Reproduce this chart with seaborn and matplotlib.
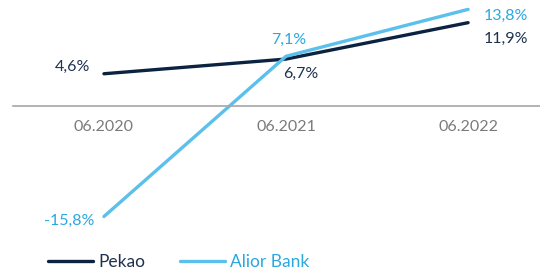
import matplotlib
matplotlib.use('Agg')
import matplotlib.pyplot as plt
import pandas as pd
import seaborn as sns

# Data
periods = ['06.2020', '06.2021', '06.2022']
pekao = [4.6, 6.7, 11.9]
alior = [-15.8, 7.1, 13.8]
series_names = ['Pekao', 'Alior Bank']
colors = {'Pekao': '#0b2341', 'Alior Bank': '#5bc0eb'}
text_colors = {'Pekao': '#1e3250', 'Alior Bank': '#2aa8e0'}

sns.set_style('white')
plt.rcParams['font.family'] = ['Lato', 'DejaVu Sans']

df = pd.DataFrame({
    'period': periods * 2,
    'pos': list(range(len(periods))) * 2,
    'value': pekao + alior,
    'bank': [series_names[0]] * 3 + [series_names[1]] * 3,
})

fig = plt.figure(figsize=(5.4, 2.76), dpi=100)
ax = fig.add_axes([0, 0, 1, 1])

sns.lineplot(data=df, x='pos', y='value', hue='bank', palette=colors,
             linewidth=2.4, ax=ax, legend=False)
for line in ax.lines:
    line.set_solid_capstyle('round')

ax.set_xlim(-0.571, 2.395)
ax.set_ylim(-24.3, 15.14)

# zero axis with category labels under it
for s in ['top', 'right', 'left']:
    ax.spines[s].set_visible(False)
ax.spines['bottom'].set_position(('data', 0))
ax.spines['bottom'].set_bounds(-0.5, 2.395)
ax.spines['bottom'].set_color('#a6a6a6')
ax.spines['bottom'].set_linewidth(1.2)
ax.set_xticks(range(len(periods)))
ax.set_xticklabels(periods, color='#7a7a7a', fontsize=11.5)
ax.tick_params(axis='x', length=0, pad=10)
ax.set_yticks([])
ax.set_xlabel('')
ax.set_ylabel('')

def fmt(v):
    return f'{v:.1f}'.replace('.', ',') + '%'

# value labels (offsets in points)
offsets = {
    'Pekao': [(-10, 5, 'right'), (-2, -11, 'left'), (11, -12, 'left')],
    'Alior Bank': [(-7, -3, 'right'), (2, 12, 'center'), (11, -5, 'left')],
}
for name, vals in zip(series_names, [pekao, alior]):
    for i, v in enumerate(vals):
        dx, dy, ha = offsets[name][i]
        ax.annotate(fmt(v), (i, v), xytext=(dx, dy), textcoords='offset points',
                    ha=ha, va='center', fontsize=11.5, color=text_colors[name])

# legend
handles = [plt.Line2D([], [], color=colors[n], linewidth=2.4, solid_capstyle='round')
           for n in series_names]
leg = ax.legend(handles, series_names, loc='lower left', bbox_to_anchor=(0.06, -0.035),
                ncol=2, frameon=False, fontsize=12.5, handlelength=2.6,
                handletextpad=0.3, columnspacing=2.0)
for t, n in zip(leg.get_texts(), series_names):
    t.set_color(text_colors[n])

fig.savefig('out.png', dpi=100)
